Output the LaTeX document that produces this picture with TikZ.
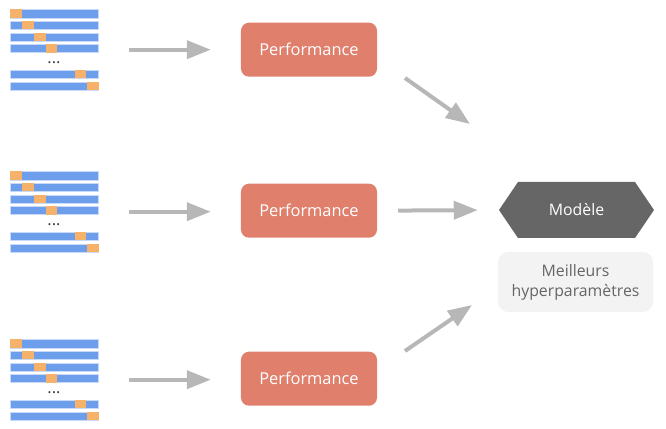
\documentclass[tikz,border=0pt]{standalone}
\usepackage{fontspec}
\setmainfont{Open Sans}
\usetikzlibrary{arrows.meta}

\definecolor{barblue}{HTML}{6D9EEB}
\definecolor{barline}{HTML}{C9DAF8}
\definecolor{barorange}{HTML}{F6B26B}
\definecolor{perfred}{HTML}{DF7F6C}
\definecolor{arrowgray}{HTML}{B7B7B7}
\definecolor{modelgray}{HTML}{666666}
\definecolor{bestgray}{HTML}{F3F3F3}

\tikzset{
	perfbox/.style={rectangle, rounded corners=0.24cm, fill=perfred, text=white,
		minimum width=4.08cm, minimum height=1.62cm, font=\fontsize{14}{16}\selectfont},
	modeltext/.style={rectangle, text=white, inner sep=0pt,
		minimum width=4.65cm, minimum height=1.68cm, font=\fontsize{13.5}{15}\selectfont},
	bestbox/.style={rectangle, rounded corners=0.3cm, fill=bestgray, text=modelgray,
		minimum width=4.65cm, minimum height=1.8cm, align=center,
		font=\fontsize{13.5}{17}\selectfont},
	grayarrow/.style={draw=arrowgray, line width=0.12cm,
		-{Triangle[length=0.72cm,width=0.54cm]}, arrowgray}
}

\begin{document}
\begin{tikzpicture}[x=0.03cm,y=-0.03cm]
	\useasboundingbox (0,0) rectangle (666,429);

	%DATA SPLITS
	\foreach \g/\oy in {1/0,2/162,3/330}{
		\foreach \ty/\ox in {9.5/10,21/22,32.7/34,44.3/45.7,70/74.7,81.7/87.3}{
			\filldraw[fill=barblue, draw=barline, line width=0.3pt] (10,\oy+\ty) rectangle (98.3,\oy+\ty+8.3);
			\fill[barorange] (\ox,\oy+\ty) rectangle (\ox+11.7,\oy+\ty+8.3);
		}
		\node[text=black!75, font=\fontsize{14}{14}\selectfont] (dots\g) at (54,\oy+63) {...};
		\coordinate (d\g) at (98,\oy+49.7);
	}

	%PERFORMANCE
	\node[perfbox] (p1) at (309,49.7) {Performance};
	\node[perfbox] (p2) at (309,210.7) {Performance};
	\node[perfbox] (p3) at (309,378.7) {Performance};

	%MODEL
	\fill[modelgray] (499,210)--(518,182)--(635,182)--(654,210)--(635,238)--(518,238)--cycle;
	\node[modeltext] (m) at (576.5,210) {Modèle};
	\node[bestbox] (best) at (575.5,282) {Meilleurs\\hyperparamètres};

	%ARROWS
	\foreach \i in {1,2,3}
		\draw[grayarrow, shorten <=0.93cm, shorten >=0.9cm] (d\i) -- (p\i.west |- d\i);
	\draw[grayarrow, shorten <=0.63cm, shorten >=0.63cm] (p2.east) -- (m.west);
	\coordinate (t1) at (405,78);
	\coordinate (h1) at (470,124);
	\coordinate (t3) at (405,351);
	\coordinate (h3) at (472,305);
	\draw[grayarrow] (t1) -- (h1);
	\draw[grayarrow] (t3) -- (h3);
\end{tikzpicture}
\end{document}
